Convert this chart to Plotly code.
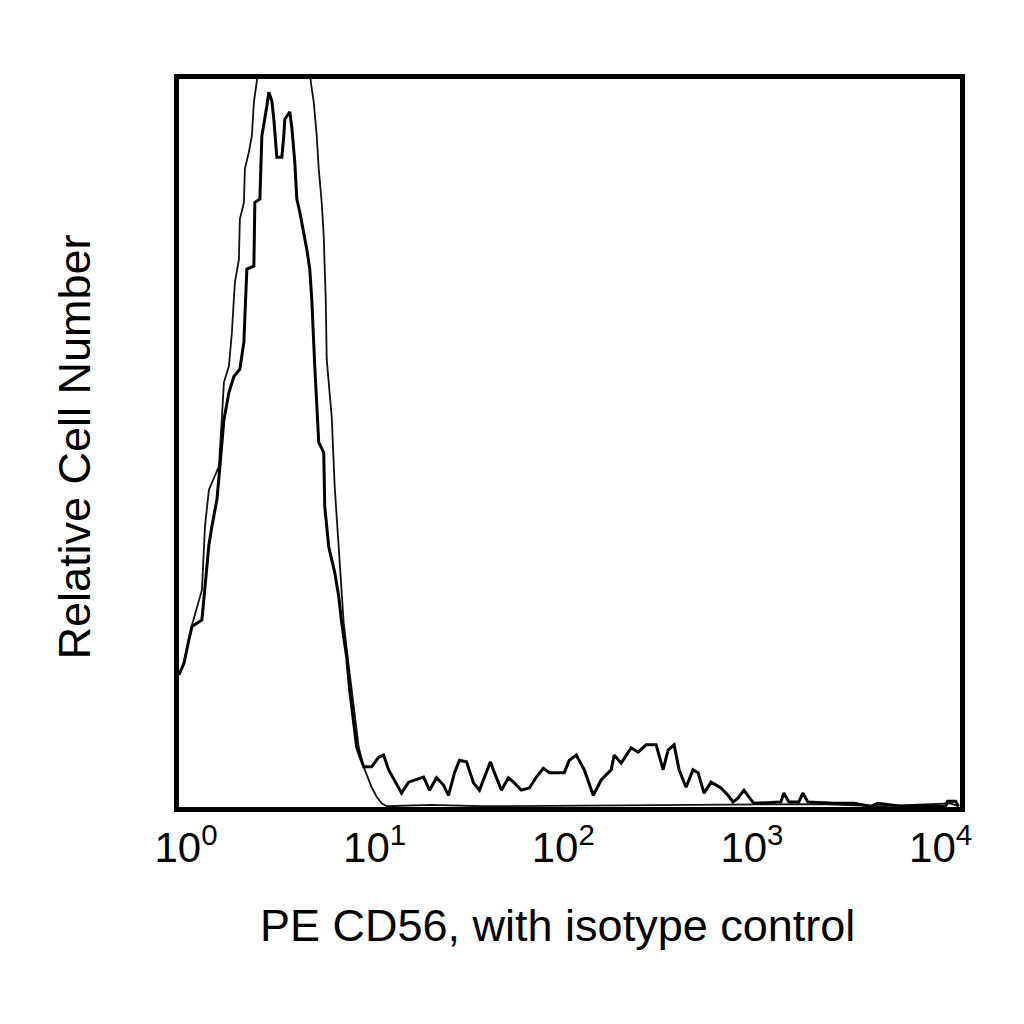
import plotly.graph_objects as go

# PE CD56 stained cells (thick line)
cd56_x = [1.000, 1.012, 1.063, 1.129, 1.172, 1.323, 1.373, 1.441, 1.495, 1.589,
          1.648, 1.730, 1.839, 1.954, 2.102, 2.208, 2.235, 2.290, 2.494, 2.524,
          2.684, 2.749, 2.922, 2.994, 3.105, 3.182, 3.300, 3.508, 3.594, 3.638,
          3.867, 3.963, 4.111, 4.211, 4.368, 4.586, 4.757, 4.934, 5.055, 5.244,
          5.504, 5.851, 5.923, 6.219, 6.690, 7.024, 7.285, 7.743, 8.031, 8.433,
          8.745, 9.524, 10.50, 11.43, 12.15, 12.91, 13.89, 15.13, 16.48, 18.61,
          19.79, 21.28, 23.18, 25.25, 26.83, 28.87, 30.68, 33.41, 36.38, 39.14,
          42.62, 44.75, 46.99, 51.17, 55.72, 59.95, 65.28, 71.97, 78.40, 85.36,
          91.83, 110.2, 117.2, 127.6, 140.6, 157.0, 173.0, 195.4, 202.7, 220.8,
          249.4, 271.6, 299.4, 338.2, 368.3, 391.4, 421.1, 447.6, 487.4, 530.8,
          564.0, 607.0, 661.0, 746.5, 813.2, 864.0, 918.4, 987.9, 1076, 1116,
          1550, 1608, 1709, 1931, 2027, 2154, 2957, 3773, 4642, 5054,
          6690, 11576, 11864, 13077, 13561]
cd56_y = [18.1, 18.4, 19.7, 22.9, 24.7, 25.6, 30.1, 35.9, 38.4, 42.1,
          46.6, 53.0, 56.7, 58.9, 59.9, 63.6, 67.1, 73.6, 74.0, 82.7,
          83.2, 91.8, 95.9, 97.8, 96.6, 94.1, 88.9, 88.9, 91.8, 94.1,
          95.1, 93.0, 88.2, 83.2, 81.4, 78.6, 76.3, 73.6, 69.5, 60.3,
          49.9, 48.5, 41.1, 35.6, 32.1, 28.8, 25.2, 20.5, 16.0, 11.5,
          8.2, 5.5, 5.5, 6.8, 7.1, 5.1, 3.7, 1.9, 3.4, 3.8,
          4.1, 2.3, 4.0, 3.0, 1.6, 4.7, 6.4, 6.2, 3.3, 2.3,
          4.7, 6.2, 4.7, 2.3, 4.0, 3.3, 2.3, 2.6, 4.1, 5.3,
          4.7, 4.7, 6.4, 7.1, 5.1, 1.6, 3.7, 5.1, 7.1, 6.0,
          8.1, 7.5, 8.5, 8.5, 5.1, 7.8, 8.5, 5.1, 2.7, 5.1,
          4.7, 1.9, 3.4, 2.6, 1.6, 0.7, 1.2, 2.3, 1.0, 0.5,
          0.7, 1.9, 0.7, 0.7, 1.9, 0.7, 0.5, 0.5, 0.1, 0.5,
          0.1, 0.1, 0.8, 0.8, 0.1]

# isotype control (thin line)
iso_x = [1.000, 1.063, 1.129, 1.172, 1.323, 1.373, 1.441, 1.628, 1.689, 1.730,
         1.839, 1.907, 1.954, 1.979, 2.077, 2.102, 2.208, 2.235, 2.346, 2.433,
         2.494, 2.587, 2.684, 2.922, 3.508, 4.211, 4.934, 4.995, 5.181, 5.373,
         5.504, 5.708, 5.851, 5.923, 5.995, 6.069, 6.449, 6.690, 7.024, 7.464,
         7.838, 8.231, 8.642, 8.964, 9.524, 10.50, 11.16, 11.86, 12.60, 21.8,
         40.1, 1076, 2524, 5244, 12300, 13561]
iso_y = [18.1, 19.7, 22.9, 24.9, 29.7, 38.4, 43.4, 46.6, 53.4, 58.1,
         60.3, 64.9, 69.5, 71.8, 74.9, 80.4, 82.7, 87.3, 89.6, 91.8,
         96.4, 99.2, 102.3, 106.0, 108.0, 105.0, 102.3, 99.2, 96.4, 91.8,
         87.3, 82.7, 78.1, 73.6, 69.5, 61.2, 53.4, 43.8, 35.6, 25.2,
         20.5, 16.0, 11.5, 8.2, 5.5, 2.7, 1.4, 0.5, 0.1, 0.3,
         0.1, 0.3, 0.4, 0.1, 0.5, 0.1]

tick_vals = [1, 10, 100, 1000, 10000]
tick_text = ["10<sup>0</sup>", "10<sup>1</sup>", "10<sup>2</sup>",
             "10<sup>3</sup>", "10<sup>4</sup>"]

fig = go.Figure()
fig.add_trace(go.Scatter(x=iso_x, y=iso_y, mode="lines",
                         line=dict(color="#111111", width=1.8),
                         name="Isotype control"))
fig.add_trace(go.Scatter(x=cd56_x, y=cd56_y, mode="lines",
                         line=dict(color="black", width=3),
                         name="PE CD56"))

font = "Liberation Sans, Arial, sans-serif"
fig.update_layout(
    width=1024, height=1024,
    margin=dict(l=171, r=72, t=71, b=225),
    paper_bgcolor="white", plot_bgcolor="white",
    showlegend=False,
    font=dict(family=font, color="black"),
    annotations=[
        dict(text="PE CD56, with isotype control", xref="paper", yref="paper",
             x=0.484, y=-0.1623, xanchor="center", yanchor="middle",
             showarrow=False, font=dict(size=45)),
        dict(text="Relative Cell Number", xref="paper", yref="paper",
             x=-0.1344, y=0.4938, xanchor="center", yanchor="middle",
             textangle=-90, showarrow=False, font=dict(size=45)),
    ],
)
fig.update_xaxes(type="log", range=[0, 4.14], tickvals=tick_vals, ticktext=tick_text,
                 showgrid=False, zeroline=False, ticks="",
                 showline=True, linecolor="black", linewidth=4.5, mirror=True,
                 tickfont=dict(size=42), ticklabelshift=7)
fig.update_yaxes(range=[0, 99.6], showticklabels=False, showgrid=False,
                 zeroline=False, ticks="",
                 showline=True, linecolor="black", linewidth=4.5, mirror=True)

fig.write_html("out.html")
